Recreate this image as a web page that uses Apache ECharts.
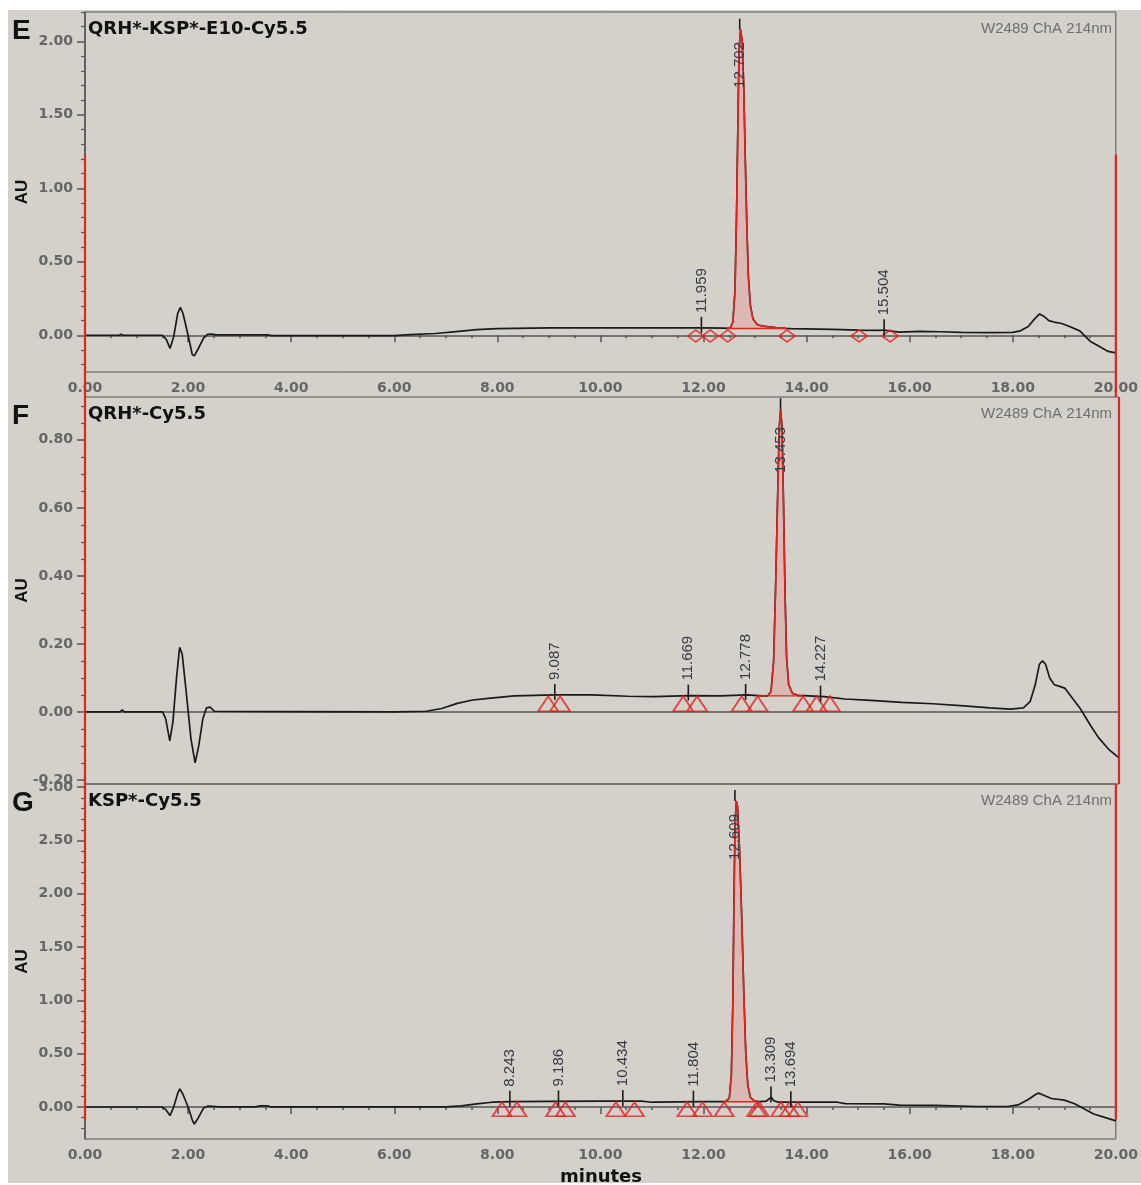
<!DOCTYPE html>
<html><head><meta charset="utf-8">
<script src="https://cdn.jsdelivr.net/npm/echarts@6.0.0/dist/echarts.min.js"></script>
<style>
html,body{margin:0;padding:0;background:#fff;width:1141px;height:1185px;overflow:hidden}
#c{position:absolute;left:8px;top:10px;width:1133px;height:1173px;background:#d4d1cb}
</style>
</head><body><div id="c"></div>
<script>
// ---------------- DATA ----------------
const xTickLabels = ["0.00","2.00","4.00","6.00","8.00","10.00","12.00","14.00","16.00","18.00","20.00"];

// Panel E : QRH*-KSP*-E10-Cy5.5
const traceE = [[0,0],[0.66,0],[0.7,0.006],[0.74,0],[1.5,0],[1.58,-0.03],[1.65,-0.09],[1.72,-0.01],[1.8,0.15],[1.85,0.19],[1.9,0.15],[2.0,0.0],[2.08,-0.13],[2.12,-0.14],[2.2,-0.09],[2.3,-0.02],[2.38,0.007],[2.45,0.008],[2.55,0.003],[3.55,0.003],[3.62,-0.002],[6.0,-0.002],[6.3,0.005],[6.8,0.012],[7.2,0.025],[7.6,0.038],[8.0,0.045],[9.0,0.05],[10.0,0.05],[11.0,0.05],[12.0,0.05],[12.4,0.048],
  [13.7,0.045],[14.5,0.04],[15.0,0.035],[15.4,0.033],[15.5,0.036],[15.6,0.03],[15.8,0.022],[16.2,0.026],[16.6,0.024],[17.0,0.02],[17.5,0.018],[18.0,0.02],[18.15,0.03],[18.3,0.06],[18.42,0.11],[18.52,0.145],[18.6,0.13],[18.7,0.1],[18.8,0.09],[18.95,0.08],[19.1,0.06],[19.3,0.03],[19.5,-0.04],[19.7,-0.08],[19.85,-0.11],[20,-0.12]];
const peakE = [[12.45,0.047],[12.52,0.05],[12.57,0.09],[12.61,0.3],[12.64,0.8],[12.67,1.5],[12.69,1.95],[12.72,2.08],[12.75,2.0],[12.78,1.7],[12.81,1.2],[12.84,0.75],[12.87,0.4],[12.91,0.2],[12.96,0.11],[13.05,0.07],[13.2,0.06],[13.4,0.052],[13.6,0.047]];
const peakBaseE = [[12.47,0.046],[13.62,0.046]];
const peakLabelsE = ["11.959","12.702","15.504"];
const peakApexE = [0.05,2.08,0.034];
const diamondTimesE = [11.85,12.13,12.47,13.62,15.02,15.62];

// Panel F : QRH*-Cy5.5
const traceF = [[0,0],[0.68,0],[0.72,0.006],[0.76,0],[1.5,0],[1.56,-0.02],[1.64,-0.085],[1.7,-0.03],[1.77,0.1],[1.83,0.19],[1.88,0.17],[1.95,0.07],[2.05,-0.08],[2.13,-0.15],[2.2,-0.1],[2.28,-0.02],[2.35,0.012],[2.42,0.014],[2.5,0.002],[4.0,0.001],[6.0,0.0],[6.6,0.002],[6.9,0.01],[7.2,0.025],[7.5,0.035],[7.8,0.04],[8.3,0.047],[9.1,0.05],[9.8,0.05],[10.5,0.046],[11.0,0.045],[11.7,0.048],[12.3,0.047],[12.8,0.05],[13.1,0.047],
  [13.9,0.048],[14.3,0.045],[14.7,0.038],[15.2,0.034],[15.8,0.028],[16.4,0.024],[17.0,0.018],[17.5,0.012],[17.9,0.008],[18.15,0.012],[18.28,0.03],[18.38,0.08],[18.46,0.14],[18.52,0.15],[18.58,0.14],[18.66,0.1],[18.75,0.08],[18.85,0.075],[18.95,0.07],[19.1,0.04],[19.25,0.01],[19.45,-0.04],[19.6,-0.075],[19.8,-0.11],[20,-0.135]];
const peakF = [[13.2,0.047],[13.27,0.06],[13.32,0.15],[13.36,0.38],[13.4,0.65],[13.43,0.84],[13.455,0.89],[13.48,0.84],[13.51,0.62],[13.54,0.35],[13.57,0.16],[13.61,0.08],[13.68,0.055],[13.8,0.048]];
const peakBaseF = [[13.0,0.047],[13.88,0.047]];
const peakLabelsF = ["9.087","11.669","12.778","13.453","14.227"];
const peakApexF = [0.05,0.048,0.05,0.89,0.045];
const triangleTimesF = [8.96,9.19,11.57,11.84,12.70,13.01,13.89,14.15,14.41];

// Panel G : KSP*-Cy5.5
const traceG = [[0,0],[1.5,0],[1.56,-0.02],[1.65,-0.08],[1.72,0.0],[1.8,0.13],[1.84,0.17],[1.9,0.12],[2.0,0.0],[2.08,-0.12],[2.12,-0.16],[2.2,-0.1],[2.3,-0.01],[2.38,0.008],[2.48,0.006],[2.6,0.002],[3.3,0.002],[3.4,0.01],[3.55,0.01],[3.6,0.002],[7.0,0.002],[7.3,0.01],[7.6,0.03],[7.9,0.045],[8.3,0.05],[9.0,0.052],[10.0,0.055],[10.8,0.055],[11.0,0.045],[11.5,0.048],[12.0,0.05],[12.38,0.05],
  [13.1,0.05],[13.22,0.055],[13.28,0.08],[13.32,0.09],[13.36,0.06],[13.45,0.045],[13.7,0.045],[14.0,0.045],[14.6,0.045],[14.75,0.032],[15.5,0.03],[15.8,0.018],[16.5,0.015],[17.3,0.005],[17.9,0.005],[18.1,0.02],[18.3,0.07],[18.45,0.12],[18.5,0.13],[18.6,0.11],[18.75,0.08],[19.0,0.065],[19.2,0.03],[19.4,-0.02],[19.57,-0.065],[19.8,-0.1],[20,-0.13]];
const peakG = [[12.42,0.05],[12.5,0.08],[12.54,0.3],[12.57,1.0],[12.59,1.9],[12.61,2.6],[12.635,2.87],[12.66,2.82],[12.7,2.4],[12.74,1.8],[12.78,1.1],[12.82,0.5],[12.86,0.2],[12.91,0.09],[12.98,0.06],[13.05,0.05]];
const peakBaseG = [[12.40,0.05],[13.03,0.05]];
const peakLabelsG = ["8.243","9.186","10.434","11.804","12.609","13.309","13.694"];
const peakApexG = [0.05,0.052,0.055,0.05,2.87,0.09,0.045];
const triangleTimesG = [8.09,8.38,9.13,9.32,10.30,10.66,11.68,11.98,12.40,13.03,13.08,13.50,13.67,13.83];

const yTicksE = [0,0.5,1,1.5,2];
const yTicksF = [-0.2,0,0.2,0.4,0.6,0.8];
const yTicksG = [0,0.5,1,1.5,2,2.5,3];

// ---------------- LAYOUT / STYLE ----------------
const RED = '#e32222', BLACK = '#1a1a1a', AXIS = '#555';
const panels = [
  {trace:traceE, peak:peakE, base:peakBaseE, marks:diamondTimesE, markLevel:-0.005, symbol:'diamond', symbolSize:[16,12],
   labels:peakLabelsE, apex:peakApexE, yMin:-0.25, yMax:2.2, yTicks:yTicksE, minorStep:0.1,
   redTop:1.23, redBottom:-0.42, top:2, height:360, showX:true, title:'QRH*-KSP*-E10-Cy5.5', letter:'E', baseLevel:0.047},
  {trace:traceF, peak:peakF, base:peakBaseF, marks:triangleTimesF, markLevel:0.024, symbol:'triangle', symbolSize:[20,15],
   labels:peakLabelsF, apex:peakApexF, yMin:-0.212, yMax:0.926, yTicks:yTicksF, minorStep:0.05,
   redTop:0.926, redBottom:-0.212, top:387, height:387, showX:false, title:'QRH*-Cy5.5', letter:'F', baseLevel:0.047},
  {trace:traceG, peak:peakG, base:peakBaseG, marks:triangleTimesG, markLevel:-0.02, symbol:'triangle', symbolSize:[19,14],
   labels:peakLabelsG, apex:peakApexG, yMin:-0.30, yMax:3.03, yTicks:yTicksG, minorStep:0.1,
   redTop:3.03, redBottom:-0.12, top:774, height:355, showX:true, title:'KSP*-Cy5.5', letter:'G', baseLevel:0.05}
];

function minorValues(p){
  const out=[]; const s=p.minorStep;
  for(let k=Math.ceil(p.yMin/s); k*s<=p.yMax+1e-9; k++){
    const v=Math.round(k*s*1e6)/1e6;
    if(!p.yTicks.some(t=>Math.abs(t-v)<1e-6)) out.push(v);
  }
  return out;
}

const grids=[], xAxes=[], yAxes=[], series=[], graphics=[];
const GL=77, GW=1034;

panels.forEach((p,gi)=>{
  grids.push({left:GL, top:p.top, width:GW, height:p.height, show:true, borderColor:AXIS, borderWidth:1, backgroundColor:'transparent', containLabel:false});
  xAxes.push({type:'value', gridIndex:gi, min:0, max:20, interval:2,
    axisLine:{show:true, lineStyle:{color:AXIS, width:1.5}},
    axisTick:{show:p.showX, length:7, lineStyle:{color:AXIS, width:1.5}},
    minorTick:{show:p.showX, splitNumber:4, length:3, lineStyle:{color:AXIS, width:1.5}},
    splitLine:{show:false}, minorSplitLine:{show:false},
    axisLabel:{show:p.showX, margin:9, color:'#666', fontFamily:'DejaVu Sans', fontWeight:'bold', fontSize:14,
      formatter:(v)=>xTickLabels[Math.round(v/2)]}
  });
  yAxes.push({type:'value', gridIndex:gi, position:'left', min:p.yMin, max:p.yMax,
    axisLine:{show:true, lineStyle:{color:AXIS, width:1.5}},
    axisTick:{show:true, customValues:p.yTicks, length:8, lineStyle:{color:AXIS, width:1.5}},
    axisLabel:{show:true, customValues:p.yTicks, margin:12, color:'#666', fontFamily:'DejaVu Sans', fontWeight:'bold', fontSize:14,
      formatter:(v)=>v.toFixed(2)},
    splitLine:{show:false}
  });
  yAxes.push({type:'value', gridIndex:gi, position:'left', offset:0, min:p.yMin, max:p.yMax,
    axisLine:{show:false},
    axisTick:{show:true, customValues:minorValues(p), length:4, lineStyle:{color:AXIS, width:1.2}},
    axisLabel:{show:false}, splitLine:{show:false}
  });
  const yi=gi*2;
  const blackData = p.trace.concat(p.peak).sort((a,b)=>a[0]-b[0]);
  const common = {xAxisIndex:gi, yAxisIndex:yi, symbol:'none', showSymbol:false, animation:false, silent:true};
  series.push(Object.assign({type:'line', data:blackData, lineStyle:{color:BLACK, width:1.7}, z:2}, common));
  series.push(Object.assign({type:'line', data:p.peak, lineStyle:{color:RED, width:1.6},
    areaStyle:{color:'rgba(240,110,110,0.35)', origin:p.baseLevel}, z:3}, common));
  series.push(Object.assign({type:'line', data:p.base, lineStyle:{color:RED, width:1.4}, z:3}, common));
  series.push(Object.assign({type:'line', data:[[0,p.redTop],[0,p.redBottom]], clip:false, lineStyle:{color:RED, width:2.2}, z:4}, common));
  series.push(Object.assign({type:'line', data:[[20,p.redTop],[20,p.redBottom]], clip:false, lineStyle:{color:RED, width:2.2}, z:4}, common));
  series.push({type:'scatter', xAxisIndex:gi, yAxisIndex:yi, animation:false, silent:true, z:5,
    symbol:p.symbol, symbolSize:p.symbolSize,
    itemStyle:{color:'rgba(0,0,0,0)', borderColor:RED, borderWidth:1.8},
    data:p.marks.map(t=>[t,p.markLevel])});
  const labs = p.labels;
  series.push({type:'custom', xAxisIndex:gi, yAxisIndex:yi, animation:false, silent:true, z:6, clip:false,
    data:labs.map((s,i)=>[parseFloat(s), p.apex[i]]),
    renderItem:function(params, api){
      const pt = api.coord([api.value(0), api.value(1)]);
      const gTop = params.coordSys.y;
      const s = labs[params.dataIndex];
      const estLen = s.length*8;
      let tickTop = pt[1]-11, tickBottom = pt[1]+5, ty, align;
      if (tickTop - 4 - estLen < gTop) {
        tickBottom = pt[1]; ty = gTop + 30; align = 'right';
      } else { ty = tickTop - 4; align = 'left'; }
      return {type:'group', children:[
        {type:'line', shape:{x1:pt[0], y1:tickBottom, x2:pt[0], y2:tickTop}, style:{stroke:BLACK, lineWidth:1.6}},
        {type:'text', x:pt[0], y:ty, rotation:Math.PI/2,
          style:{text:s, font:'15px "Liberation Sans"', fill:'#383844', align:align, textAlign:align, verticalAlign:'middle', textVerticalAlign:'middle'}}
      ]};
    }
  });
  const cy = p.top;
  graphics.push({type:'text', x:4, y:cy+19, style:{text:p.letter, font:'bold 28px "Liberation Sans"', fill:'#111', align:'left', verticalAlign:'middle', textAlign:'left', textVerticalAlign:'middle'}});
  graphics.push({type:'text', x:80, y:cy+17, style:{text:p.title, font:'bold 18px "DejaVu Sans"', fill:'#111', align:'left', verticalAlign:'middle', textAlign:'left', textVerticalAlign:'middle'}});
  graphics.push({type:'text', x:1104, y:cy+17, style:{text:'W2489 ChA 214nm', font:'15px "Liberation Sans"', fill:'#6e6e6e', align:'right', verticalAlign:'middle', textAlign:'right', textVerticalAlign:'middle'}});
  graphics.push({type:'text', x:14, y:cy+p.height*0.5, rotation:Math.PI/2, style:{text:'AU', font:'bold 17px "Liberation Sans"', fill:'#111', align:'center', verticalAlign:'middle', textAlign:'center', textVerticalAlign:'middle'}});
});
graphics.push({type:'text', x:593, y:1167, style:{text:'minutes', font:'bold 18px "DejaVu Sans"', fill:'#111', align:'center', verticalAlign:'middle', textAlign:'center', textVerticalAlign:'middle'}});

const chart = echarts.init(document.getElementById('c'));
chart.setOption({animation:false, backgroundColor:'transparent', grid:grids, xAxis:xAxes, yAxis:yAxes, series:series, graphic:graphics});
</script></body></html>
